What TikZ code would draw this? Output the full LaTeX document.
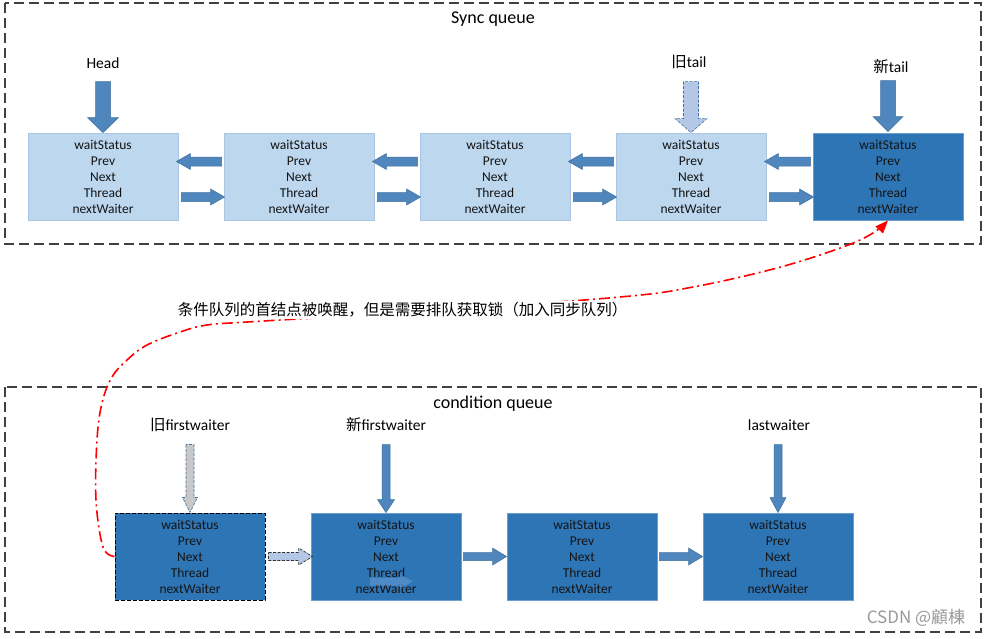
\documentclass[tikz,border=0pt]{standalone}
\usepackage{fontspec}
\setmainfont{Carlito}
\newfontfamily\cjk{Noto Sans CJK SC}
\usetikzlibrary{calc,arrows.meta,shadows}
\definecolor{lightbox}{HTML}{BDD7EE}
\definecolor{lightboxline}{HTML}{A9C5E3}
\definecolor{darkbox}{HTML}{2E75B6}
\definecolor{darkboxline}{HTML}{6A9FD4}
\definecolor{arrowfill}{HTML}{4F86BD}
\definecolor{arrowline}{HTML}{41719C}
\definecolor{paleblue}{HTML}{B4C7E7}
\definecolor{palegray}{HTML}{C8C8C8}
\definecolor{framegray}{HTML}{404040}
\definecolor{faintarrow}{HTML}{5A93CC}
\tikzset{
  aw/.store in=\aw, ahw/.store in=\ahw, ahl/.store in=\ahl,
  aw=4.5pt, ahw=8pt, ahl=14pt,
  rarrow/.style={to path={let \p1=(\tikztostart),\p2=(\tikztotarget) in
    (\x1,\y1+\aw) -- (\x2-\ahl,\y1+\aw) -- (\x2-\ahl,\y1+\ahw) -- (\x2,\y1)
    -- (\x2-\ahl,\y1-\ahw) -- (\x2-\ahl,\y1-\aw) -- (\x1,\y1-\aw) -- cycle}},
  larrow/.style={to path={let \p1=(\tikztostart),\p2=(\tikztotarget) in
    (\x1,\y1+\aw) -- (\x2+\ahl,\y1+\aw) -- (\x2+\ahl,\y1+\ahw) -- (\x2,\y1)
    -- (\x2+\ahl,\y1-\ahw) -- (\x2+\ahl,\y1-\aw) -- (\x1,\y1-\aw) -- cycle}},
  darrow/.style={to path={let \p1=(\tikztostart),\p2=(\tikztotarget) in
    (\x1-\aw,\y1) -- (\x1-\aw,\y2+\ahl) -- (\x1-\ahw,\y2+\ahl) -- (\x1,\y2)
    -- (\x1+\ahw,\y2+\ahl) -- (\x1+\aw,\y2+\ahl) -- (\x1+\aw,\y1) -- cycle}},
  blk/.style={fill=arrowfill, draw=arrowline, line width=0.5pt},
  boxbase/.style={minimum width=150pt, minimum height=87pt, inner sep=0pt,
    align=center, font=\fontsize{13.5}{16}\selectfont, text=black!92,
    line width=0.8pt},
  lbox/.style={boxbase, fill=lightbox, draw=lightboxline,
    drop shadow={shadow xshift=1.2pt, shadow yshift=-1.2pt, opacity=0.18}},
  dbox/.style={boxbase, fill=darkbox, draw=darkboxline,
    drop shadow={shadow xshift=1.2pt, shadow yshift=-1.2pt, opacity=0.18}},
  lbl/.style={font=\fontsize{15.5}{17}\selectfont, inner sep=1pt},
  ttl/.style={font=\fontsize{18}{20}\selectfont, inner sep=1pt},
  frame/.style={draw=framegray, line width=1.4pt, dash pattern=on 10pt off 5pt},
}
\begin{document}
\begin{tikzpicture}[x=1pt,y=-1pt]
\useasboundingbox (0,0) rectangle (987,638);
\fill[white] (0,0) rectangle (987,638);

% frames
\draw[frame] (5,3) rectangle (981,244);
\draw[frame] (5,387) rectangle (981,632);
\node[ttl] (synct) at (493,19) {Sync queue};
\node[ttl] (condt) at (493,404) {condition queue};

% sync queue nodes
\node[lbox] (s1) at (103,176.5) {waitStatus\\Prev\\Next\\Thread\\nextWaiter};
\node[lbox] (s2) at (299,176.5) {waitStatus\\Prev\\Next\\Thread\\nextWaiter};
\node[lbox] (s3) at (495,176.5) {waitStatus\\Prev\\Next\\Thread\\nextWaiter};
\node[lbox] (s4) at (691,176.5) {waitStatus\\Prev\\Next\\Thread\\nextWaiter};
\node[dbox] (s5) at (888,176.5) {waitStatus\\Prev\\Next\\Thread\\nextWaiter};

\foreach \a/\b in {s1/s2, s2/s3, s3/s4, s4/s5} {
  \draw[blk, larrow] ([xshift=-2pt,yshift=15pt]\b.west) to ([xshift=-2pt,yshift=15pt]\a.east);
  \draw[blk, rarrow] ([xshift=3pt,yshift=-20.5pt]\a.east) to ([xshift=1pt,yshift=-20.5pt]\b.west);
}

% sync labels
\node[lbl] (head) at (103,63) {Head};
\node[lbl] (oldtail) at (689,62) {{\cjk 旧}tail};
\node[lbl] (newtail) at (891,67) {{\cjk 新}tail};
\draw[blk, darrow, aw=7.5pt, ahw=15.5pt, ahl=15pt] ($(s1.north)+(0,-51)$) to (s1.north);
\draw[fill=paleblue, draw=arrowline, line width=0.6pt, dash pattern=on 3pt off 1.5pt,
  darrow, aw=7.5pt, ahw=16pt, ahl=14pt] ($(s4.north)+(0,-51)$) to (s4.north);
\draw[blk, darrow, aw=7.5pt, ahw=15pt, ahl=15pt] ($(s5.north)+(0,-52)$) to ([yshift=1pt]s5.north);

% condition queue nodes
\node[dbox, draw=black, dash pattern=on 4pt off 2pt, line width=1pt] (b1) at (190,556.5) {waitStatus\\Prev\\Next\\Thread\\nextWaiter};
\node[dbox] (b2) at (386,556.5) {waitStatus\\Prev\\Next\\Thread\\nextWaiter};
\node[dbox] (b3) at (582,556.5) {waitStatus\\Prev\\Next\\Thread\\nextWaiter};
\node[dbox] (b4) at (778,556.5) {waitStatus\\Prev\\Next\\Thread\\nextWaiter};

\draw[fill=faintarrow, draw=none, opacity=0.75, rarrow, aw=4pt, ahw=7pt, ahl=13pt]
  ([xshift=-16pt,yshift=-25pt]b2.center) to ([xshift=27pt,yshift=-25pt]b2.center);

\draw[fill=paleblue, draw=black!80, line width=0.7pt, dash pattern=on 3pt off 1.5pt,
  rarrow, aw=4pt, ahw=8.5pt, ahl=14pt] ([xshift=3pt]b1.east) to ([xshift=2pt]b2.west);
\draw[blk, rarrow, aw=4pt, ahw=8.5pt, ahl=14pt] ([xshift=2pt]b2.east) to ([xshift=0pt]b3.west);
\draw[blk, rarrow, aw=4pt, ahw=8.5pt, ahl=14pt] ([xshift=2pt]b3.east) to ([xshift=0pt]b4.west);

% condition labels
\node[lbl] (oldfw) at (190,425) {{\cjk 旧}firstwaiter};
\node[lbl] (newfw) at (386,425) {{\cjk 新}firstwaiter};
\node[lbl] (lastw) at (779,425) {lastwaiter};
\draw[fill=palegray, draw=arrowline, line width=0.6pt, dash pattern=on 3pt off 1.5pt,
  darrow, aw=4pt, ahw=7.5pt, ahl=15pt] ($(b1.north)+(0,-68)$) to (b1.north);
\draw[blk, darrow, aw=4pt, ahw=8.5pt, ahl=13pt] ($(b2.north)+(0,-68)$) to (b2.north);
\draw[blk, darrow, aw=4pt, ahw=8pt, ahl=15pt] ($(b4.north)+(0,-68)$) to ([xshift=1pt]b4.north);

% red dash-dot curve
\draw[red, line width=1.6pt, dash pattern=on 11pt off 4pt on 2pt off 4pt,
  -{Triangle[length=13pt,width=10pt]}]
  plot[smooth, tension=0.6] coordinates {(b1.west) (103,547) (96,500) (97,440) (102,403)
    (112,377) (127,360) (147,345) (180,332) (207,325) (247,322) (430,311) (620,297)
    (693,287) (777,268) (843,247) (873,233) (s5.south)};

\node[fill=white, inner sep=2pt, font=\cjk\fontsize{15.5}{17}\selectfont] (note) at (402.5,310)
  {条件队列的首结点被唤醒，但是需要排队获取锁（加入同步队列）};

% watermark
\node[text=black!40, fill=white, inner sep=1pt, font=\cjk\fontsize{17}{18}\selectfont] (wm) at (916,618) {CSDN @顧棟};
\end{tikzpicture}
\end{document}
